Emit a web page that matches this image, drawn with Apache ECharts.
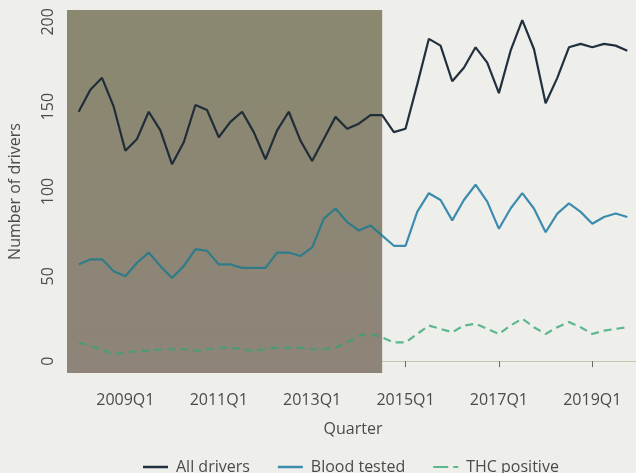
<!DOCTYPE html>
<html>
<head>
<meta charset="utf-8">
<script src="https://cdn.jsdelivr.net/npm/echarts@6/dist/echarts.min.js"></script>
<style>
  html, body { margin: 0; padding: 0; background: #eeeeeb; }
  #chart { width: 636px; height: 473px; }
</style>
</head>
<body>
<div id="chart"></div>
<script>
// Quarterly counts, 2008Q1 .. 2019Q4
const firstYear = 2008;
const quarterCount = 48;
const quarters = [];
for (let i = 0; i < quarterCount; i++) {
  quarters.push((firstYear + Math.floor(i / 4)) + 'Q' + (i % 4 + 1));
}

const allDrivers = [147, 160, 167, 150, 124, 131, 147, 136, 116, 129, 151, 148,
                    132, 141, 147, 135, 119, 136, 147, 130, 118, 131, 144, 137,
                    140, 145, 145, 135, 137, 163, 190, 186, 165, 173, 185, 176,
                    158, 183, 201, 184, 152, 167, 185, 187, 185, 187, 186, 183];
const bloodTested = [57, 60, 60, 53, 50, 58, 64, 56, 49, 56, 66, 65,
                     57, 57, 55, 55, 55, 64, 64, 62, 67, 84, 90, 82,
                     77, 80, 74, 68, 68, 88, 99, 95, 83, 95, 104, 94,
                     78, 90, 99, 90, 76, 87, 93, 88, 81, 85, 87, 85];
const thcPositive = [11, 9, 7, 4, 5, 6, 6, 7, 7, 7, 6, 7,
                     8, 8, 7, 6, 7, 8, 8, 8, 7, 7, 8, 11,
                     15, 16, 14, 11, 11, 16, 21, 19, 17, 21, 22, 19,
                     16, 21, 25, 20, 16, 20, 23, 20, 16, 18, 19, 20];

const xTickLabels = ['2009Q1', '2011Q1', '2013Q1', '2015Q1', '2017Q1', '2019Q1'];
const yTickValues = [0, 50, 100, 150, 200];
const shadedPeriod = ['2007Q4', '2014Q3'];

const seriesNames = ['All drivers', 'Blood tested', 'THC positive'];
const seriesColors = ['#22303e', '#3d8cae', '#5cb692'];
// the same lines seen through the shaded band
const shadedColors = ['#1f2d39', '#2f7c88', '#4e9a74'];

function qIndex(label) {
  const y = parseInt(label.slice(0, 4), 10);
  const q = parseInt(label.slice(5), 10);
  return (y - firstYear) * 4 + (q - 1);
}
const xTickValues = xTickLabels.map(qIndex);
const shadeStart = qIndex(shadedPeriod[0]);
const shadeEnd = qIndex(shadedPeriod[1]);

function pairs(values) {
  return values.map((v, i) => [i, v]);
}

const textColor = '#4d4b48';
const fontFamily = '"Open Sans", "Noto Sans", sans-serif';

const solidIcon = 'rect';
const dashedIcon = 'path://M0,0h15v2h-15z M20,0h5v2h-5z';

const chart = echarts.init(document.getElementById('chart'), null, { renderer: 'canvas' });

chart.setOption({
  backgroundColor: '#eeeeeb',
  animation: false,
  textStyle: { fontFamily: fontFamily },
  grid: {
    left: 67, top: 10, right: -3, bottom: 100,
    containLabel: false,
    outerBoundsMode: 'none'
  },
  legend: {
    data: [
      { name: seriesNames[0], icon: solidIcon, itemStyle: { color: seriesColors[0] } },
      { name: seriesNames[1], icon: solidIcon, itemStyle: { color: seriesColors[1] } },
      { name: seriesNames[2], icon: dashedIcon, itemStyle: { color: seriesColors[2] } }
    ],
    left: 138,
    top: 454,
    itemWidth: 25,
    itemHeight: 2.5,
    itemGap: 28,
    textStyle: { color: textColor, fontSize: 16, fontFamily: fontFamily, padding: [0, 0, 0, 3] }
  },
  visualMap: [0, 1, 2].map(k => ({
    type: 'piecewise',
    show: false,
    seriesIndex: k + 1,
    dimension: 0,
    pieces: [
      { min: shadeStart, max: shadeEnd, color: shadedColors[k] },
      { min: shadeEnd, max: quarterCount, color: seriesColors[k] }
    ]
  })),
  xAxis: {
    type: 'value',
    min: shadeStart,
    max: quarterCount,
    name: 'Quarter',
    nameLocation: 'middle',
    nameGap: 48,
    nameTextStyle: { color: textColor, fontSize: 16 },
    axisLine: { show: true, lineStyle: { color: '#c9c4b0', width: 1 } },
    axisTick: { show: true, customValues: xTickValues, length: 6, lineStyle: { color: '#6b6a66' } },
    axisLabel: {
      customValues: xTickValues,
      formatter: v => quarters[v],
      color: textColor, fontSize: 16, margin: 19
    },
    splitLine: { show: false }
  },
  yAxis: {
    type: 'value',
    min: -7,
    max: 207,
    name: 'Number of drivers',
    nameLocation: 'middle',
    nameGap: 44,
    nameTextStyle: { color: textColor, fontSize: 16 },
    axisLine: { show: true, lineStyle: { color: '#c9c4b0', width: 1 } },
    axisTick: { show: true, customValues: yTickValues, length: 7, lineStyle: { color: '#6b6a66' } },
    axisLabel: {
      customValues: yTickValues,
      rotate: 90,
      color: textColor, fontSize: 16, margin: 11
    },
    splitLine: { show: false }
  },
  series: [
    {
      name: 'shade',
      type: 'line',
      data: [],
      z: 1,
      silent: true,
      markArea: {
        silent: true,
        itemStyle: {
          opacity: 1,
          color: {
            type: 'linear', x: 0, y: 0, x2: 0, y2: 1,
            colorStops: [
              { offset: 0, color: '#8a896f' },
              { offset: 1, color: '#8e8479' }
            ]
          }
        },
        data: [[{ xAxis: shadeStart }, { xAxis: shadeEnd }]]
      }
    },
    {
      name: seriesNames[0],
      type: 'line',
      data: pairs(allDrivers),
      symbol: 'none',
      z: 3,
      color: seriesColors[0],
      lineStyle: { width: 2.2 }
    },
    {
      name: seriesNames[1],
      type: 'line',
      data: pairs(bloodTested),
      symbol: 'none',
      z: 3,
      color: seriesColors[1],
      lineStyle: { width: 2.2 }
    },
    {
      name: seriesNames[2],
      type: 'line',
      data: pairs(thcPositive),
      symbol: 'none',
      z: 3,
      color: seriesColors[2],
      lineStyle: { width: 2.2, type: [8, 5] }
    }
  ]
});
</script>
</body>
</html>
